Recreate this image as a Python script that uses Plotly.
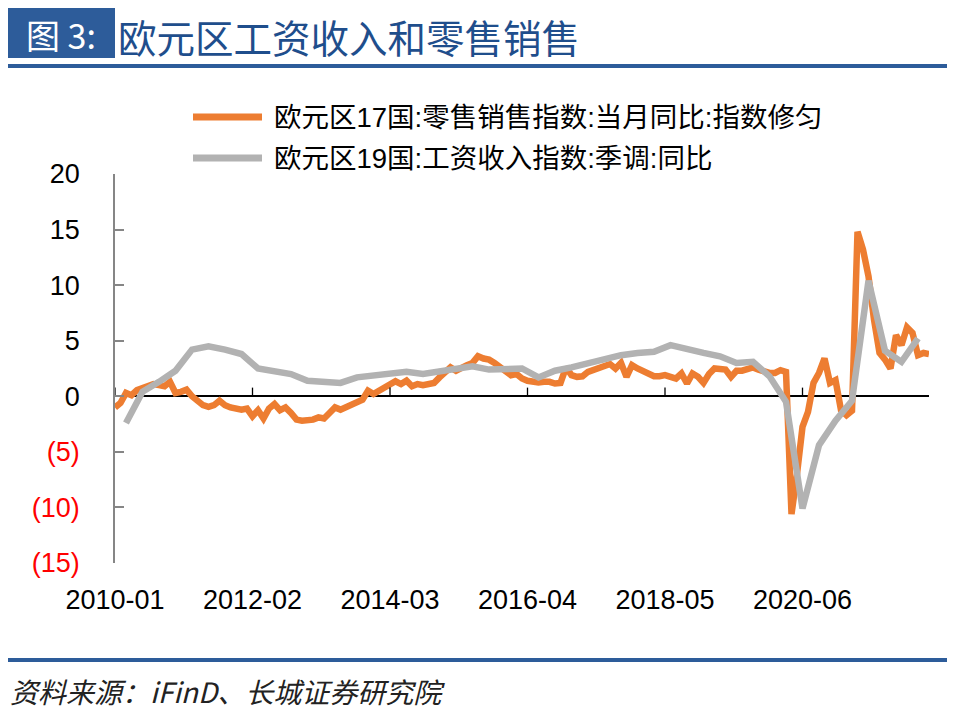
import plotly.graph_objects as go

# ---------------- data ----------------
months = [f"{y}-{m:02d}" for y in range(2010, 2023) for m in range(1, 13)][:149]  # 2010-01 .. 2022-05

retail_yoy = [
    -1.0, -0.6, 0.3, 0.1, 0.55, 0.75, 0.95, 1.1, 1.0, 0.9, 1.3, 0.3,
    0.4, 0.6, 0.0, -0.5, -0.8, -0.95, -0.8, -0.4, -0.8, -1.0, -1.1, -1.2,
    -1.1, -1.8, -1.25, -2.0, -1.1, -0.7, -1.25, -1.0, -1.5, -2.1, -2.2, -2.2,
    -2.1, -1.9, -2.0, -1.5, -1.0, -1.2, -1.0, -0.7, -0.5, -0.3, 0.5, 0.2,
    0.5, 0.8, 1.1, 1.35, 1.1, 1.4, 0.9, 1.1, 1.0, 1.1, 1.2, 1.7,
    2.1, 2.6, 2.3, 2.6, 2.8, 3.0, 3.6, 3.4, 3.3, 3.0, 2.6, 2.2,
    1.9, 2.0, 1.6, 1.4, 1.3, 1.25, 1.3, 1.3, 1.15, 1.2, 2.6, 1.9,
    1.75, 1.8, 2.2, 2.35, 2.5, 2.7, 2.9, 2.5, 3.0, 1.75, 2.8, 2.5,
    2.3, 2.1, 1.8, 1.8, 1.9, 1.75, 1.6, 2.05, 1.15, 2.05, 1.75, 1.2,
    2.0, 2.5, 2.5, 2.4, 1.75, 2.3, 2.3, 2.4, 2.6, 2.4, 2.2, 2.1,
    2.1, 2.35, 2.2, -10.6, -7.0, -2.75, -1.4, 1.2, 2.1, 3.4, 1.2, 1.45,
    -1.25, -1.7, -1.3, 14.8, 13.2, 10.8, 6.9, 3.9, 3.3, 2.5, 5.5, 4.6,
    6.2, 5.7, 3.7, 3.9, 3.8,
]

wage_months = months[2::3]  # quarter-end months 2010-03 .. 2022-03
wage_yoy = [
    -2.4, 0.4, 1.3, 2.3, 4.2, 4.5, 4.2, 3.8, 2.5, 2.3, 2.0, 1.4,
    1.3, 1.2, 1.7, 1.9, 2.1, 2.2, 2.0, 2.2, 2.4, 2.7, 2.4, 2.4,
    2.5, 1.7, 2.3, 2.6, 3.0, 3.4, 3.7, 3.9, 4.0, 4.6, 4.2, 3.9,
    3.6, 3.0, 3.1, 1.8, -0.5, -10.1, -4.4, -2.2, -0.4, 10.4, 4.1, 3.1,
    5.2,
]

tick_labels = ["2010-01", "2012-02", "2014-03", "2016-04", "2018-05", "2020-06"]
y_ticks = [-15, -10, -5, 0, 5, 10, 15, 20]
y_ticktext = [f'<span style="color:#FF0000">({-v})</span>' if v < 0 else str(v) for v in y_ticks]

series_names = ["欧元区17国:零售销售指数:当月同比:指数修匀", "欧元区19国:工资收入指数:季调:同比"]
series_colors = ["#ED7D31", "#B2B2B2"]

title_tag = "图 3:"
title_text = "欧元区工资收入和零售销售"
source_text = "资料来源：iFinD、长城证券研究院"

# ---------------- geometry helpers (screen pixel -> paper) ----------------
W, H = 955, 711
OFF = 8  # page body margin
L, R, T, B = 107, 34, 166, 156
PW, PH = W - L - R, H - T - B


def px(x):
    return (x - OFF - L) / PW


def py(y):
    return (H - B - (y - OFF)) / PH


fig = go.Figure()

fig.add_trace(go.Scatter(
    x=months, y=retail_yoy, mode="lines", name=series_names[0],
    line=dict(color=series_colors[0], width=6.5), showlegend=False,
))
fig.add_trace(go.Scatter(
    x=wage_months, y=wage_yoy, mode="lines", name=series_names[1],
    line=dict(color=series_colors[1], width=6.5), showlegend=False,
))

# tick marks on the zero line (category axis crosses at 0)
tx, ty = [], []
for t in tick_labels:
    tx += [t, t, None]
    ty += [0, 0.78, None]
fig.add_trace(go.Scatter(x=tx, y=ty, mode="lines", line=dict(color="black", width=1.3),
                         hoverinfo="skip", showlegend=False))

fig.update_layout(
    width=W, height=H,
    margin=dict(l=L, r=R, t=T, b=B),
    paper_bgcolor="white", plot_bgcolor="white",
    font=dict(family="Liberation Sans, Arial, Noto Sans CJK SC", color="black"),
    showlegend=False,
)

fig.update_xaxes(
    type="category", categoryorder="array", categoryarray=months,
    range=[0, len(months) - 1],
    showgrid=False, showline=False, zeroline=False, ticks="",
    tickmode="array", tickvals=tick_labels, ticktext=tick_labels,
    tickfont=dict(size=27, color="black"), ticklabelstandoff=18,
)
fig.update_yaxes(
    range=[-15, 20], tickmode="array", tickvals=y_ticks, ticktext=y_ticktext,
    showgrid=False, showline=True, linecolor="#868686", linewidth=1.5,
    ticks="inside", ticklen=9, tickcolor="#868686", tickwidth=1.5,
    zeroline=True, zerolinecolor="black", zerolinewidth=1.5,
    tickfont=dict(size=27, color="black"), ticklabelstandoff=28,
)

shapes = []
annotations = []

# manual legend
for i, (name, col) in enumerate(zip(series_names, series_colors)):
    yc = 117 + 41 * i
    shapes.append(dict(type="line", xref="paper", yref="paper",
                       x0=px(193), x1=px(262), y0=py(yc), y1=py(yc),
                       line=dict(color=col, width=7)))
    annotations.append(dict(text=name, xref="paper", yref="paper", x=px(272), y=py(yc),
                            xanchor="left", yanchor="middle", showarrow=False,
                            font=dict(size=27.5, color="black",
                                      family="Liberation Sans, Noto Sans CJK SC")))

# title block
shapes.append(dict(type="rect", xref="paper", yref="paper", x0=px(8), x1=px(115),
                   y0=py(58), y1=py(8), fillcolor="#2D5C9A", line=dict(width=0)))
annotations.append(dict(text=title_tag, xref="paper", yref="paper", x=px(61), y=py(35),
                        xanchor="center", yanchor="middle", showarrow=False,
                        font=dict(size=34, color="white", family="Noto Sans CJK SC")))
annotations.append(dict(text=title_text, xref="paper", yref="paper", x=px(117), y=py(36),
                        xanchor="left", yanchor="middle", showarrow=False, borderpad=0,
                        font=dict(size=38.5, color="#1F4E8C", family="Noto Sans CJK SC")))
shapes.append(dict(type="line", xref="paper", yref="paper", x0=px(8), x1=px(955),
                   y0=py(66), y1=py(66), line=dict(color="#2D5C9A", width=4)))

# source block
shapes.append(dict(type="line", xref="paper", yref="paper", x0=px(5), x1=px(952),
                   y0=py(660), y1=py(660), line=dict(color="#2D5C9A", width=4)))
annotations.append(dict(text=source_text, xref="paper", yref="paper", x=px(8), y=py(691),
                        xanchor="left", yanchor="middle", showarrow=False,
                        font=dict(size=28, color="#222222", family="Noto Sans CJK SC",
                                  style="italic")))

fig.update_layout(shapes=shapes, annotations=annotations)

fig.write_html("out.html")
